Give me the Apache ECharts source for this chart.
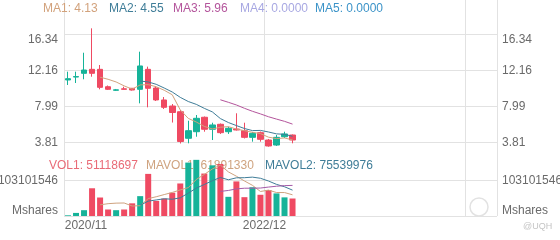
<!DOCTYPE html>
<html><head><meta charset="utf-8">
<script src="https://cdn.jsdelivr.net/npm/echarts@6/dist/echarts.min.js"></script>
<style>html,body{margin:0;padding:0;background:#fff}#c{width:560px;height:240px}</style>
</head><body><div id="c"></div>
<script>
// ---- data ----
const months = ['2020/11','2020/12','2021/01','2021/02','2021/03','2021/04','2021/05','2021/06','2021/07','2021/08','2021/09','2021/10','2021/11','2021/12','2022/01','2022/02','2022/03','2022/04','2022/05','2022/06','2022/07','2022/08','2022/09','2022/10','2022/11','2022/12','2023/01','2023/02','2023/03'];
const openP  = [11.06,11.40,11.83,12.29,12.29,10.28,9.87,10.04,10.10,9.98,12.29,10.13,8.75,8.05,7.39,4.32,5.08,6.75,5.36,5.94,5.08,5.39,5.20,4.43,4.97,4.12,3.54,4.50,4.70];
const closeP = [11.21,11.45,12.21,11.83,10.21,9.98,9.92,9.98,9.90,12.68,10.10,8.75,7.90,7.30,3.95,5.20,6.63,5.36,5.86,4.97,5.47,5.28,4.43,4.90,4.20,3.43,4.43,4.82,4.12];
const lowP   = [10.48,10.71,11.14,11.44,9.98,9.90,9.79,9.95,9.84,8.36,7.90,8.63,7.71,6.14,3.72,3.74,4.50,5.08,4.12,4.82,4.82,5.22,4.30,3.93,3.93,3.35,3.43,4.35,3.74];
const highP  = [12.02,12.02,14.21,17.03,12.79,10.42,10.02,10.28,10.13,14.33,12.60,10.36,9.09,8.28,7.59,6.35,7.01,6.84,6.12,6.03,5.66,7.21,6.12,5.05,5.10,4.24,4.70,5.08,4.76];
const ma1 = [null,null,null,null,11.38,11.14,10.83,10.38,10.00,10.49,10.52,10.28,9.87,9.35,7.60,6.62,6.20,5.69,5.40,5.60,5.66,5.39,5.20,5.01,4.86,4.45,4.28,4.36,4.13];
const ma2 = [null,null,null,null,null,null,null,null,null,10.94,10.83,10.56,10.13,9.67,9.05,8.57,8.24,7.78,7.37,6.60,6.14,5.79,5.45,5.21,5.23,5.05,4.83,4.78,4.55];
const ma3 = [null,null,null,null,null,null,null,null,null,null,null,null,null,null,null,null,null,null,null,8.77,8.48,8.17,7.79,7.44,7.14,6.81,6.54,6.28,5.96];
const vol = [2000000,9000000,17000000,81000000,54000000,19000000,17000000,19000000,37000000,58000000,123000000,44000000,51000000,68000000,95000000,156000000,164000000,124000000,148000000,152000000,56000000,101000000,55000000,84000000,62000000,76000000,66000000,54400000,51118697];
const mavol1 = [null,null,null,null,32600000,36000000,37600000,38000000,29200000,30000000,50800000,56200000,62600000,68800000,76200000,82800000,106800000,121400000,137400000,148800000,128800000,116200000,102400000,89600000,71600000,75600000,68600000,68500000,61891330];
const mavol2 = [null,null,null,null,null,null,null,null,null,31300000,43400000,46900000,50300000,49000000,53100000,66800000,81500000,92000000,103100000,112500000,105800000,111500000,111900000,113500000,110200000,102200000,92400000,85400000,75539976];
const mavol3 = [null,null,null,null,null,null,null,null,null,null,null,null,null,null,null,null,null,null,null,71900000,74600000,79200000,81100000,81250000,81650000,84500000,86950000,88700000,89400000];
const priceTicks = [3.81, 7.99, 12.16, 16.34];
const volTicks = [0, 103101546];
const maTitles = ['MA1: 4.13','MA2: 4.55','MA3: 5.96','MA4: 0.0000','MA5: 0.0000'];
const volTitles = ['VOL1: 51118697','MAVOL1: 61891330','MAVOL2: 75539976'];
const xLabelIdx = [0, 25];
const xLineIdx = [0, 25, 50];

// ---- style ----
const UP = '#16b399', DOWN = '#ef4a62';
const MA_COLORS = ['#d2a27c','#3f7d98','#b4559c','#a8a8e2','#3b93c8'];
const VOL_COLORS = ['#e96b77','#cfa37f','#3f7d98','#a45aa8'];
const GRID = '#e2e2e2', LABEL = '#6a6a6a';
const FONT = '"Liberation Sans", Arial, sans-serif';
const SLOTS = 54;
const cats = months.concat(Array.from({length: SLOTS - months.length}, (_, i) => 'pad' + i));

const chart = echarts.init(document.getElementById('c'), null, {renderer: 'canvas'});

const xBase = (gi) => ({
  type: 'category', gridIndex: gi, data: cats, boundaryGap: true,
  axisLine: {show: false}, axisTick: {show: false},
  splitLine: {show: true, interval: (i) => xLineIdx.indexOf(i) >= 0, lineStyle: {color: GRID, width: 1}},
  axisLabel: {show: false}
});
const x0 = xBase(0);
const x1 = xBase(1);
x1.axisLabel = {
  show: true, interval: (i) => xLabelIdx.indexOf(i) >= 0, margin: 4,
  color: LABEL, fontSize: 12, fontFamily: FONT,
  formatter: (v, i) => i === 0 ? '{l|' + v + '}' : '{r|' + v + '}',
  rich: {
    l: {padding: [0, 0, 0, 36], color: LABEL, fontSize: 12, fontFamily: FONT},
    r: {padding: [0, 8, 0, 0], color: LABEL, fontSize: 12, fontFamily: FONT}
  }
};

const priceFmt = (v) => (Math.abs(v - priceTicks[priceTicks.length - 1]) < 1e-9 ? '{t|' + v.toFixed(2) + '}' : v.toFixed(2));
const volFmt = (v) => (v === 0 ? '{m|Mshares}' : String(v));
const yAx = (gi, pos, min, max, ticks, fmt, split, margin) => ({
  type: 'value', gridIndex: gi, position: pos, min: min, max: max, scale: false,
  axisLine: {show: false}, axisTick: {show: false, customValues: ticks},
  splitLine: {show: split, lineStyle: {color: GRID, width: 1}},
  axisLabel: {
    customValues: ticks, formatter: fmt, margin: margin, color: LABEL, fontSize: 12, fontFamily: FONT,
    rich: {
      t: {padding: [10, 0, 0, 0], color: LABEL, fontSize: 12, fontFamily: FONT},
      m: {padding: [0, 0, 11, 0], color: LABEL, fontSize: 12, fontFamily: FONT}
    }
  }
});

const maTitleLeft = [43, 109, 173, 240, 315];
const volTitleLeft = [49, 146, 265];
const titles = [];
maTitles.forEach((t, i) => titles.push({text: t, left: maTitleLeft[i], top: 3, padding: 0, z: 1,
  textStyle: {color: MA_COLORS[i], fontSize: 12, fontWeight: 'normal', fontFamily: FONT}}));
volTitles.forEach((t, i) => titles.push({text: t, left: volTitleLeft[i], top: 160, padding: 0, z: 1,
  textStyle: {color: VOL_COLORS[i], fontSize: 12, fontWeight: 'normal', fontFamily: FONT}}));

const line = (data, color, xi, yi) => ({
  type: 'line', data: data, xAxisIndex: xi, yAxisIndex: yi, symbol: 'none', showSymbol: false,
  lineStyle: {color: color, width: 1}, itemStyle: {color: color}, z: 3, connectNulls: false
});

chart.setOption({
  animation: false,
  backgroundColor: '#fff',
  textStyle: {fontFamily: FONT},
  title: titles,
  grid: [
    {left: 64, right: 63, top: 0, height: 150, containLabel: false, outerBoundsMode: 'none'},
    {left: 64, right: 63, top: 150, height: 66, containLabel: false, outerBoundsMode: 'none'}
  ],
  xAxis: [x0, x1],
  yAxis: [
    yAx(0, 'left', 2.966, 20.305, priceTicks, priceFmt, true, 6),
    yAx(0, 'right', 2.966, 20.305, priceTicks, priceFmt, false, 5),
    yAx(1, 'left', 0, 192770000, volTicks, volFmt, true, 6),
    yAx(1, 'right', 0, 192770000, volTicks, volFmt, false, 5)
  ],
  series: [
    {
      type: 'candlestick', xAxisIndex: 0, yAxisIndex: 0, barWidth: 6, z: 2,
      data: months.map((m, i) => [openP[i], closeP[i], lowP[i], highP[i]]),
      itemStyle: {color: UP, color0: DOWN, borderColor: UP, borderColor0: DOWN, borderWidth: 1}
    },
    line(ma1, MA_COLORS[0], 0, 0),
    line(ma2, MA_COLORS[1], 0, 0),
    line(ma3, MA_COLORS[2], 0, 0),
    {
      type: 'bar', xAxisIndex: 1, yAxisIndex: 2, barWidth: 6, z: 2,
      data: vol.map((v, i) => ({value: v, itemStyle: {color: closeP[i] >= openP[i] ? UP : DOWN}}))
    },
    line(mavol1, VOL_COLORS[1], 1, 2),
    line(mavol2, VOL_COLORS[2], 1, 2),
    line(mavol3, VOL_COLORS[3], 1, 2)
  ],
  graphic: [
    {type: 'circle', shape: {cx: 479, cy: 207, r: 9}, style: {fill: 'none', stroke: '#e2e2e2', lineWidth: 1.5}, silent: true},
    {type: 'text', left: 523, top: 222, style: {text: '@UQH', fill: '#c4c4c4', font: '9px "Liberation Sans", Arial'}, silent: true}
  ]
});
</script></body></html>
